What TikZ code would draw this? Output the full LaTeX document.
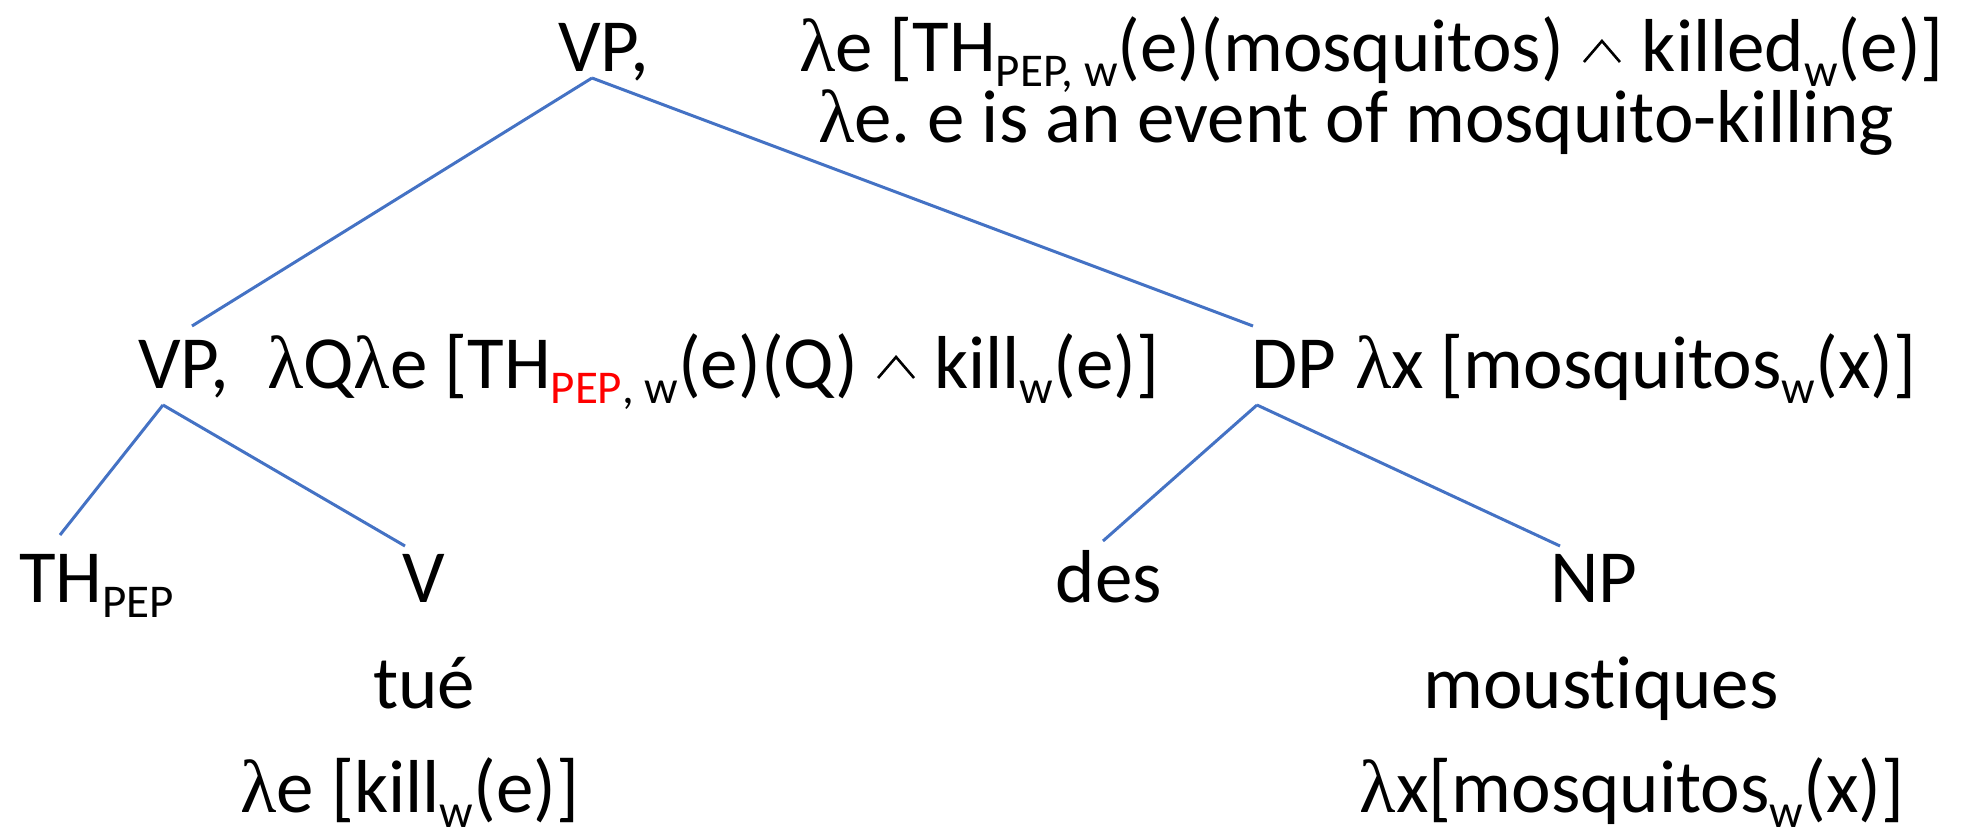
\documentclass[tikz,border=0pt]{standalone}
\usepackage{fontspec}
\setmainfont{Carlito}[Ligatures={NoCommon}]
\newfontfamily\grkfont{Liberation Serif}
\newcommand\lamsym{{\grkfont λ}}
\newcommand\subtxt[1]{\raisebox{-0.2em}{\fontsize{23.5}{24}\selectfont #1}}
\definecolor{treeblue}{HTML}{4472C4}
\definecolor{pepred}{HTML}{FF0000}
\frenchspacing
\tikzset{
  lab/.style={inner sep=0pt, outer sep=0pt, font=\fontsize{37.5}{45}\selectfont},
  branch/.style={draw=treeblue, line width=1.5pt},
  wedgeline/.style={draw=black, line width=1.3pt, line join=miter}
}
\begin{document}
\begin{tikzpicture}[x=0.5pt,y=-0.5pt]
\useasboundingbox (0,0) rectangle (1965,834);
% top
\node[lab,anchor=base west] (vp0) at (558,72) {VP,};
\node[lab,anchor=base west] (f0a) at (799,72) {\lamsym e [TH\subtxt{PEP, w}(e)(mosquitos)};
\coordinate (w0a) at ([xshift=10pt,yshift=5pt]f0a.base east);
\coordinate (w0b) at ([xshift=19pt,yshift=15.5pt]f0a.base east);
\coordinate (w0c) at ([xshift=28pt,yshift=5pt]f0a.base east);
\draw[wedgeline] (w0a) -- (w0b) -- (w0c);
\node[lab,anchor=base west] (f0c) at ([xshift=39pt]f0a.base east) {killed\subtxt{w}(e)]};
\node[lab,anchor=base west] (f0b) at (818,143) {\lamsym e. e is an event of mosquito-killing};
% middle
\node[lab,anchor=base west] (vp1) at (138,388) {VP,};
\node[lab,anchor=base west] (f1) at (267,388) {\lamsym Q\lamsym e [TH\subtxt{{\color{pepred}PEP}, w}(e)(Q)};
\coordinate (w1a) at ([xshift=10pt,yshift=5pt]f1.base east);
\coordinate (w1b) at ([xshift=19pt,yshift=15.5pt]f1.base east);
\coordinate (w1c) at ([xshift=28pt,yshift=5pt]f1.base east);
\draw[wedgeline] (w1a) -- (w1b) -- (w1c);
\node[lab,anchor=base west] (f1c) at ([xshift=38pt]f1.base east) {kill\subtxt{w}(e)]};
\node[lab,anchor=base west] (dp) at (1251,388) {DP};
\node[lab,anchor=base west] (f2) at (1355,388) {\lamsym x [mosquitos\subtxt{w}(x)]};
% bottom
\node[lab,anchor=base west] (th) at (19,602) {TH\subtxt{PEP}};
\node[lab,anchor=base] (v) at (424,602) {V};
\node[lab,anchor=base] (des) at (1109,602) {des};
\node[lab,anchor=base] (np) at (1594,602) {NP};
\node[lab,anchor=base] (tue) at (424,708) {tué};
\node[lab,anchor=base] (mous) at (1601,708) {moustiques};
\node[lab,anchor=base] (le) at (410,812) {\lamsym e [kill\subtxt{w}(e)]};
\node[lab,anchor=base] (lx) at (1632,812) {\lamsym x[mosquitos\subtxt{w}(x)]};
% branch ends
\coordinate (c0) at (592,78);
\coordinate (c1a) at (192,326);
\coordinate (c1b) at (1253,326);
\coordinate (c2) at (163,405);
\coordinate (c2a) at (60,535);
\coordinate (c2b) at (405,546);
\coordinate (c3) at (1257,405);
\coordinate (c3a) at (1103,541);
\coordinate (c3b) at (1560,546);
\draw[branch] (c0) -- (c1a);
\draw[branch] (c0) -- (c1b);
\draw[branch] (c2) -- (c2a);
\draw[branch] (c2) -- (c2b);
\draw[branch] (c3) -- (c3a);
\draw[branch] (c3) -- (c3b);
\end{tikzpicture}
\end{document}
